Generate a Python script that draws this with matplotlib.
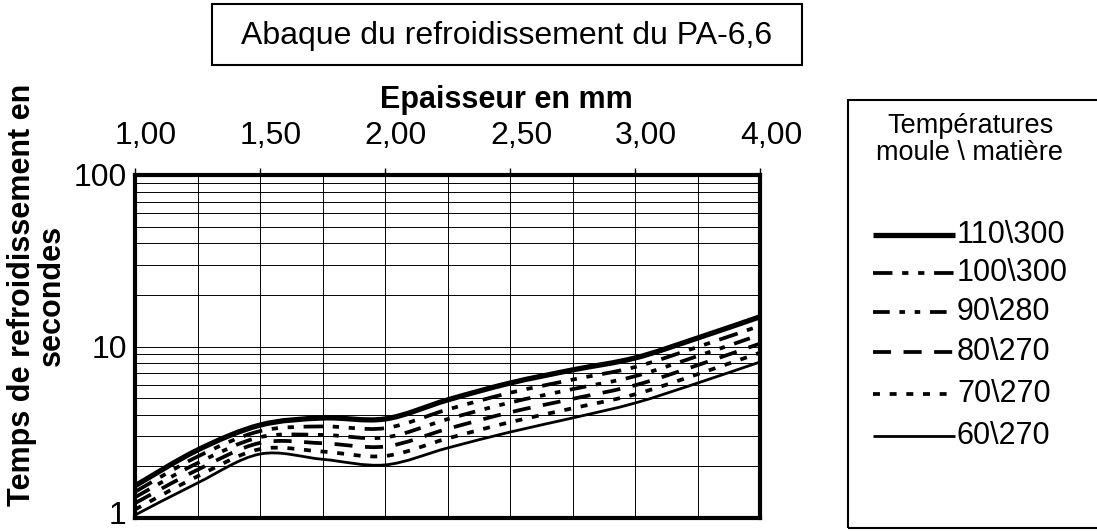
import numpy as np
import matplotlib
matplotlib.use("Agg")
import matplotlib.pyplot as plt
from matplotlib.path import Path
from matplotlib.patches import PathPatch, Rectangle
from matplotlib.lines import Line2D
import matplotlib.transforms as mtransforms

plt.rcParams['font.family'] = ['Liberation Sans', 'DejaVu Sans']
plt.rcParams['lines.scale_dashes'] = False

# epaisseur (categories) and cooling times
epaisseur = ['1,00', '1,25', '1,50', '1,75', '2,00', '2,25', '2,50', '2,75', '3,00', '3,50', '4,00']
shown_labels = ['1,00', '1,50', '2,00', '2,50', '3,00', '4,00']

t_110_300 = [1.54, 2.49, 3.48, 3.83, 3.78, 4.88, 6.12, 7.30, 8.57, 11.2, 14.9]
t_100_300 = [1.42, 2.28, 3.21, 3.42, 3.34, 4.29, 5.37, 6.41, 7.59, 9.93, 13.2]
t_90_280 = [1.32, 2.09, 2.96, 3.05, 2.95, 3.77, 4.71, 5.64, 6.71, 8.79, 11.7]
t_80_270 = [1.22, 1.91, 2.74, 2.73, 2.61, 3.31, 4.13, 4.95, 5.94, 7.78, 10.4]
t_70_270 = [1.12, 1.75, 2.52, 2.44, 2.30, 2.91, 3.62, 4.36, 5.26, 6.89, 9.2]
t_60_270 = [1.04, 1.60, 2.36, 2.20, 2.04, 2.56, 3.17, 3.83, 4.68, 6.12, 8.12]

labels = ['110\\300', '100\\300', '90\\280', '80\\270', '70\\270', '60\\270']
series = [t_110_300, t_100_300, t_90_280, t_80_270, t_70_270, t_60_270]
widths = [3.8, 2.7, 2.7, 2.7, 2.7, 2.0]
styles = ['-', (0, (14, 7, 4.5, 7, 4.5, 7)), (0, (12, 7, 4, 7, 4, 7)),
          (0, (13, 9)), (0, (5, 7)), '-']

W, H = 1097, 531
fig = plt.figure(figsize=(W / 100, H / 100), dpi=100)


def fx(x):
    return x / W


def fy(y):
    return 1 - y / H


ax = fig.add_axes([fx(135), fy(518), fx(760 - 135), (518 - 175) / H])
ax.set_yscale('log')
ax.set_ylim(1, 100)
ax.set_xlim(0, len(epaisseur) - 1)


def smooth_path(xs, ys):
    # catmull-rom in (x, log y) space turned into bezier segments
    px = np.array(xs, dtype=float)
    py = np.log10(np.array(ys, dtype=float))
    n = len(px)
    verts = [(px[0], py[0])]
    codes = [Path.MOVETO]
    for i in range(n - 1):
        i0 = max(i - 1, 0)
        i3 = min(i + 2, n - 1)
        c1 = (px[i] + (px[i + 1] - px[i0]) / 6, py[i] + (py[i + 1] - py[i0]) / 6)
        c2 = (px[i + 1] - (px[i3] - px[i]) / 6, py[i + 1] - (py[i3] - py[i]) / 6)
        verts += [c1, c2, (px[i + 1], py[i + 1])]
        codes += [Path.CURVE4] * 3
    verts = np.array(verts)
    verts[:, 1] = 10 ** verts[:, 1]
    return Path(verts, codes)


xi = np.arange(len(epaisseur))
for vals, ls, lw in zip(series, styles, widths):
    ax.add_patch(PathPatch(smooth_path(xi, vals), fill=False, edgecolor='black',
                           linewidth=lw, linestyle=ls, capstyle='butt', zorder=3))

# grid
for x in xi:
    ax.axvline(x, color='black', lw=0.7, zorder=1)
for dec in [1, 10]:
    for m in range(1, 10):
        ax.axhline(dec * m, color='black', lw=0.7, zorder=1)

for s in ax.spines.values():
    s.set_linewidth(3)

ax.set_xticks(xi[[0, 2, 4, 6, 8, 10]])
ax.set_xticklabels(shown_labels)
ax.tick_params(axis='x', top=True, labeltop=True, bottom=False, labelbottom=False,
               length=5, width=1, labelsize=23, pad=12)
ax.set_yticks([1, 10, 100])
ax.set_yticklabels(['1', '10', '100'])
ax.yaxis.set_minor_locator(matplotlib.ticker.NullLocator())
ax.tick_params(axis='y', length=0, labelsize=23, pad=6)
off = mtransforms.ScaledTranslation(0.11, 0, fig.dpi_scale_trans)
for lab in ax.get_xticklabels():
    lab.set_transform(lab.get_transform() + off)
up = mtransforms.ScaledTranslation(0, 0.06, fig.dpi_scale_trans)
ylab1 = ax.get_yticklabels()[0]
ylab1.set_transform(ylab1.get_transform() + up)

# title box
fig.add_artist(Rectangle((fx(212), fy(65)), fx(802 - 212), (65 - 4) / H,
                         transform=fig.transFigure, fill=False, lw=1.5, ec='black'))
fig.text(fx(507), fy(36), 'Abaque du refroidissement du PA-6,6', ha='center', va='center',
         fontsize=23)

fig.text(fx(506), fy(100), 'Epaisseur en mm', ha='center', va='center',
         fontsize=22, fontweight='bold')
fig.text(fx(37), fy(295), 'Temps de refroidissement en\nsecondes', rotation=90,
         ha='center', va='center', multialignment='center', fontsize=22,
         fontweight='bold', linespacing=1.0)

# legend drawn by hand
fig.add_artist(Rectangle((fx(848), fy(528)), fx(1110 - 848), (528 - 100) / H,
                         transform=fig.transFigure, fill=False, lw=1.5, ec='black'))
fig.text(fx(970), fy(139), 'Températures\nmoule \\ matière', ha='center', va='center',
         fontsize=19.5, linespacing=1.05)
rows = [235, 273, 312, 352, 394, 436]
for lab, ls, lw, yy in zip(labels, styles, widths, rows):
    fig.add_artist(Line2D([fx(873), fx(955)], [fy(yy), fy(yy)], transform=fig.transFigure,
                          color='black', lw=lw, linestyle=ls, solid_capstyle='butt',
                          dash_capstyle='butt'))
    fig.text(fx(957), fy(yy), lab, ha='left', va='center', fontsize=22)

fig.savefig('out.png', dpi=100)
